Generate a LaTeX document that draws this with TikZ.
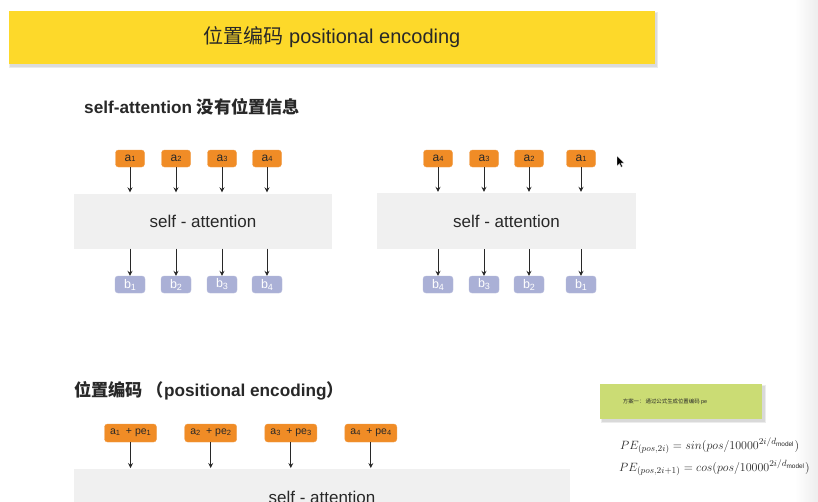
\documentclass[tikz,border=0pt]{standalone}
\usepackage{fontspec}
\usepackage{amsmath}
\setmainfont{Liberation Sans}
\newfontfamily\cjk{Noto Sans CJK SC}
\usetikzlibrary{arrows.meta}
\definecolor{banner}{RGB}{253,217,42}
\definecolor{orng}{RGB}{240,140,38}
\definecolor{lav}{RGB}{170,176,214}
\definecolor{boxgray}{RGB}{240,240,240}
\definecolor{grn}{RGB}{203,220,116}
\definecolor{txt}{RGB}{40,40,40}
\newcommand\zh[1]{{\cjk #1}}
\newcommand\ai[1]{\raisebox{-0.4pt}{\fontsize{7.5}{7.5}\selectfont #1}}
\newcommand\bi[1]{\raisebox{-2pt}{\fontsize{9}{9}\selectfont #1}}
\tikzset{
  anode/.style={rounded corners=3pt, fill=orng, draw=orng!85!white, line width=0.4pt,
    minimum width=29pt, minimum height=17pt, inner sep=0pt, text=txt,
    font=\fontsize{12}{12}\selectfont},
  penode/.style={anode, minimum width=52pt, minimum height=18pt, font=\fontsize{10.5}{10.5}\selectfont},
  bnode/.style={rounded corners=3pt, fill=lav, draw=lav!85!white, line width=0.4pt,
    minimum width=30pt, minimum height=17pt, inner sep=0pt, text=white,
    font=\fontsize{12.5}{12.5}\selectfont},
  sabox/.style={fill=boxgray, draw=none, inner sep=0pt, text=txt,
    font=\fontsize{17}{17}\selectfont},
  arr/.style={draw=txt, line width=0.8pt, -{Stealth[length=5pt,width=5pt,inset=1.8pt]}},
  heading/.style={anchor=west, inner sep=0pt, text=txt, font=\bfseries\fontsize{17.2}{17.2}\selectfont},
}
\begin{document}
\begin{tikzpicture}[x=1pt,y=-1pt]
\useasboundingbox (0,0) rectangle (818,501);
\clip (0,0) rectangle (818,501);
\fill[white] (0,0) rectangle (818,501);
% right edge strip
\shade[left color=white, right color=black!7] (795,0) rectangle (818,501);

% banner
\fill[black!25, opacity=0.5] (10,13) rectangle (657,67);
\fill[black!15, opacity=0.5] (9,12) rectangle (658,68);
\node[fill=banner, minimum width=646pt, minimum height=53pt, inner sep=0pt,
  text=txt, font=\fontsize{20}{20}\selectfont] (title) at (332,37.5)
  {\zh{位置编码} positional encoding};

% heading 1
\node[heading] (h1) at (84,107) {self-attention \zh{没有位置信息}};

% left panel
\node[sabox, minimum width=258pt, minimum height=55pt] (sa1) at (203,221) {self - attention};
\foreach \n/\x in {1/130,2/176,3/222,4/267}{
  \node[anode] (la\n) at (\x,158.5) {a\ai{\n}};
  \node[bnode] (lb\n) at (\x,284.5) {b\bi{\n}};
  \draw[arr] (la\n.south) -- ([yshift=1pt]la\n.south |- sa1.north);
  \draw[arr] (lb\n.north |- sa1.south) -- (lb\n.north);
}

% right panel
\node[sabox, minimum width=259pt, minimum height=56pt] (sa2) at (506.5,221) {self - attention};
\foreach \n/\x in {4/438,3/484,2/529,1/581}{
  \node[anode] (ra\n) at (\x,158.5) {a\ai{\n}};
  \node[bnode] (rb\n) at (\x,284.5) {b\bi{\n}};
  \draw[arr] (ra\n.south) -- ([yshift=1pt]ra\n.south |- sa2.north);
  \draw[arr] (rb\n.north |- sa2.south) -- (rb\n.north);
}

% cursor
\fill[black, draw=white, line width=0.3pt] (617,156) -- (617,166) -- (619.4,163.6) -- (621.2,167.2) -- (622.6,166.5) -- (620.9,163) -- (624,163) -- cycle;

% heading 2
\node[heading] (h2) at (74,391) {\zh{位置编码 （}positional encoding\zh{）}};

% bottom panel
\fill[boxgray] (74,469) rectangle (570,512);
\node[anchor=base, inner sep=0pt, text=txt, font=\fontsize{17}{17}\selectfont] (sa3) at (322,503) {self - attention};
\foreach \n/\x in {1/130.5,2/210.7,3/290.8,4/370.8}{
  \node[penode] (pe\n) at (\x,433) {a\ai{\n}\ \ + pe\ai{\n}};
  \coordinate (pt\n) at (\x,468);
  \draw[arr] (pe\n.south) -- (pt\n);
}

% green box
\fill[black!30, opacity=0.6] (601.5,386) rectangle (764.5,421.5);
\fill[black!12, opacity=0.6] (601,385) rectangle (765.5,422.5);
\node[fill=grn, minimum width=162pt, minimum height=35pt, inner sep=0pt] (plan) at (681,401.5) {};
\node[inner sep=0pt, text=txt, font=\fontsize{5.4}{5.4}\selectfont] (plantext) at (665,402)
  {\zh{方案一：\ 通过公式生成位置编码} pe};

% formulas
\node[anchor=west, inner sep=0pt, text=txt, font=\fontsize{12.9}{14}\selectfont] (f1) at (620,446)
  {$PE_{(pos,2i)} = sin(pos/10000^{2i/d_{\text{model}}})$};
\node[anchor=west, inner sep=0pt, text=txt, font=\fontsize{12.9}{14}\selectfont] (f2) at (619,468)
  {$PE_{(pos,2i+1)} = cos(pos/10000^{2i/d_{\text{model}}})$};
\end{tikzpicture}
\end{document}
